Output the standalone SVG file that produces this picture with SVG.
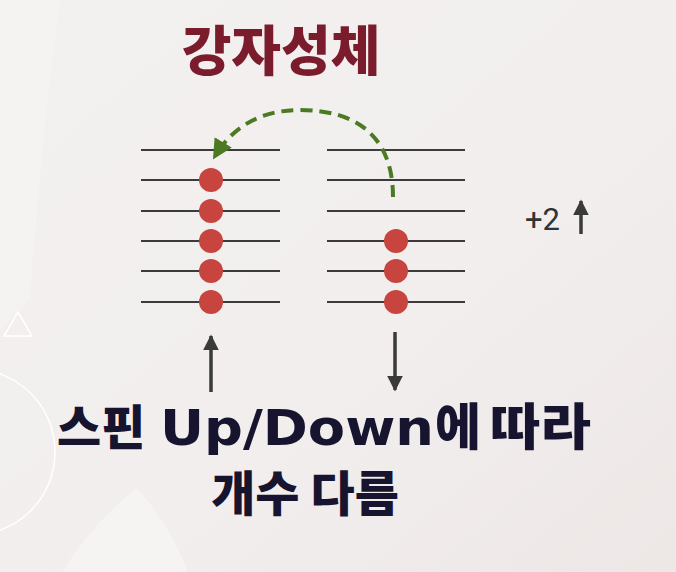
<svg xmlns="http://www.w3.org/2000/svg" width="676" height="572" viewBox="0 0 676 572">
  <style>
    .lvl { stroke: #3b3b3b; stroke-width: 2; }
    .e { fill: #c7443f; }
    .spin { stroke: #3a3a3a; stroke-width: 3.5; fill: none; }
    .title { font-family: "Noto Sans CJK KR", "Noto Sans", sans-serif; font-weight: 900; fill: #7b1c2d; }
    .cap { font-family: "Noto Sans CJK KR", "Noto Sans", sans-serif; font-weight: 900; fill: #16142e; }
    .lat { font-family: "DejaVu Sans", "Noto Sans", sans-serif; font-weight: 700; }
    .lbl { font-family: Roboto, "Liberation Sans", sans-serif; fill: #333333; }
  </style>
  <defs>
    <linearGradient id="bg" x1="0" y1="0" x2="1" y2="1">
      <stop offset="0" stop-color="#f3f1f0"/>
      <stop offset="0.6" stop-color="#f1eeed"/>
      <stop offset="1" stop-color="#ede7e6"/>
    </linearGradient>
    <marker id="ga" viewBox="0 0 10 10" refX="8" refY="5" markerWidth="5" markerHeight="5" orient="auto" markerUnits="strokeWidth">
      <path d="M0,0 L10,5 L0,10 z" fill="#4b7a22"/>
    </marker>
    <marker id="da" viewBox="0 0 10 10" refX="9" refY="5" markerWidth="4.5" markerHeight="4.5" orient="auto" markerUnits="strokeWidth">
      <path d="M0,0 L10,5 L0,10 z" fill="#3a3a3a"/>
    </marker>
  </defs>

  <g id="background">
    <rect width="676" height="572" fill="url(#bg)"/>
    <path d="M0,0 L60,0 Q40,150 30,300 L0,330 z" fill="#f5f3f2" opacity="0.7"/>
    <path d="M62,572 Q95,520 137,488 Q170,525 188,572 z" fill="#f6f4f3"/>
    <circle cx="-28" cy="452" r="83" fill="none" stroke="#ffffff" stroke-width="1.5"/>
    <path d="M18,312 L32,336 L4,336 z" fill="none" stroke="#ffffff" stroke-width="1.5"/>
  </g>

  <g id="title">
    <text class="title" x="281" y="71" font-size="54" text-anchor="middle">강자성체</text>
  </g>

  <g id="left-levels">
    <line class="lvl" x1="141" y1="150" x2="280" y2="150"/>
    <line class="lvl" x1="141" y1="180" x2="280" y2="180"/>
    <line class="lvl" x1="141" y1="211" x2="280" y2="211"/>
    <line class="lvl" x1="141" y1="241" x2="280" y2="241"/>
    <line class="lvl" x1="141" y1="271" x2="280" y2="271"/>
    <line class="lvl" x1="141" y1="302" x2="280" y2="302"/>
    <circle class="e" cx="211" cy="180" r="12"/>
    <circle class="e" cx="211" cy="211" r="12"/>
    <circle class="e" cx="211" cy="241" r="12"/>
    <circle class="e" cx="211" cy="271" r="12"/>
    <circle class="e" cx="211" cy="302" r="12"/>
  </g>

  <g id="right-levels">
    <line class="lvl" x1="327" y1="150" x2="465" y2="150"/>
    <line class="lvl" x1="327" y1="180" x2="465" y2="180"/>
    <line class="lvl" x1="327" y1="211" x2="465" y2="211"/>
    <line class="lvl" x1="327" y1="241" x2="465" y2="241"/>
    <line class="lvl" x1="327" y1="271" x2="465" y2="271"/>
    <line class="lvl" x1="327" y1="302" x2="465" y2="302"/>
    <circle class="e" cx="396" cy="241" r="12"/>
    <circle class="e" cx="396" cy="271" r="12"/>
    <circle class="e" cx="396" cy="302" r="12"/>
  </g>

  <g id="connectors">
    <path d="M393,197 C393,135 355,110 300,110 C262,110 233,126 215,156" fill="none" stroke="#4b7a22" stroke-width="4" stroke-dasharray="12,7" marker-end="url(#ga)"/>
    <line class="spin" x1="211" y1="392" x2="211" y2="336" marker-end="url(#da)"/>
    <line class="spin" x1="395" y1="332" x2="395" y2="390" marker-end="url(#da)"/>
  </g>

  <g id="net-spin">
    <text class="lbl" x="525" y="230" font-size="31">+2</text>
    <line class="spin" x1="581" y1="234" x2="581" y2="201" marker-end="url(#da)"/>
  </g>

  <g id="caption">
    <text class="cap" y="445" font-size="48"><tspan x="57">스핀</tspan><tspan class="lat" x="160" font-size="50" textLength="274" lengthAdjust="spacingAndGlyphs">Up/Down</tspan><tspan x="435" font-size="50">에</tspan><tspan x="490" font-size="50" textLength="101" lengthAdjust="spacingAndGlyphs">따라</tspan></text>
    <text class="cap" x="305" y="511" font-size="48" text-anchor="middle">개수 다름</text>
  </g>
</svg>
